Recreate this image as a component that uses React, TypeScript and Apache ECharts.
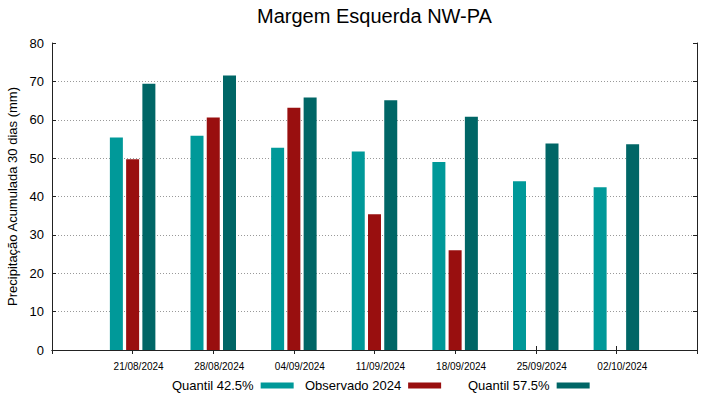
import React, { useEffect, useRef } from "react";
import * as echarts from "echarts";

const titleText = "Margem Esquerda NW-PA";
const yAxisName = "Precipitação Acumulada 30 dias (mm)";
const dates = ["21/08/2024", "28/08/2024", "04/09/2024", "11/09/2024", "18/09/2024", "25/09/2024", "02/10/2024"];
const seriesNames = ["Quantil 42.5%", "Observado 2024", "Quantil 57.5%"];
const q425 = [55.4, 55.8, 52.7, 51.7, 49.0, 44.0, 42.4];
const obs2024: (number | null)[] = [49.7, 60.6, 63.1, 35.4, 26.0, null, null];
const q575 = [69.4, 71.5, 65.8, 65.1, 60.8, 53.8, 53.6];
const colors = ["#009999", "#990f0f", "#006666"];

const FONT = "Liberation Sans, Arial, sans-serif";

export default function App() {
  const ref = useRef<HTMLDivElement>(null);
  useEffect(() => {
    if (!ref.current) return;
    const chart = echarts.init(ref.current, undefined, { renderer: "svg" });
    const cats = ["", ...dates, ""];
    const pad = (arr: (number | null)[]) => [null, ...arr, null];
    const allData = [q425, obs2024, q575];
    const axisLineStyle = { color: "#222", width: 1 };
    chart.setOption({
      animation: false,
      textStyle: { fontFamily: FONT },
      grid: { left: 52, right: 22, top: 43, bottom: 49, show: false, containLabel: false, outerBoundsMode: "none" },
      graphic: [
        {
          type: "text",
          x: 374.5,
          y: 16,
          style: {
            text: titleText,
            fontSize: 20,
            fontFamily: FONT,
            fill: "#000",
            textAlign: "center",
            textVerticalAlign: "middle",
          },
        },
      ],
      legend: seriesNames.map((n, i) => ({
        data: [n],
        left: [172, 305, 468][i],
        top: 379,
        align: "right",
        icon: "rect",
        itemWidth: 33,
        itemHeight: 6,
        padding: 0,
        selectedMode: false,
        textStyle: { fontSize: 13, color: "#000", fontFamily: FONT, padding: [0, 2, 0, 0] },
      })),
      xAxis: [
        {
          type: "category",
          data: cats,
          boundaryGap: false,
          position: "bottom",
          axisLine: { show: true, lineStyle: axisLineStyle },
          axisTick: { show: true, inside: true, length: 4, lineStyle: axisLineStyle, interval: 0 },
          axisLabel: {
            interval: 0,
            fontSize: 10,
            color: "#000",
            margin: 11,
            padding: [0, 0, 0, 12],
            fontFamily: FONT,
          },
          splitLine: { show: false },
        },
        {
          type: "category",
          data: cats,
          boundaryGap: false,
          position: "top",
          axisLine: { show: true, lineStyle: axisLineStyle },
          axisTick: { show: true, inside: true, length: 4, lineStyle: axisLineStyle, interval: 0 },
          axisLabel: { show: false },
          splitLine: { show: false },
        },
      ],
      yAxis: [
        {
          type: "value",
          min: 0,
          max: 80,
          interval: 10,
          position: "left",
          name: yAxisName,
          nameLocation: "middle",
          nameGap: 28,
          nameRotate: 90,
          nameTextStyle: { fontSize: 13, color: "#000", fontFamily: FONT },
          axisLine: { show: true, lineStyle: axisLineStyle },
          axisTick: { show: true, inside: true, length: 4, lineStyle: axisLineStyle },
          axisLabel: { fontSize: 13, color: "#000", margin: 8, fontFamily: FONT },
          splitLine: {
            show: true,
            showMinLine: false,
            showMaxLine: false,
            lineStyle: { color: "#999", type: [1, 2], width: 1 },
          },
        },
        {
          type: "value",
          min: 0,
          max: 80,
          interval: 10,
          position: "right",
          axisLine: { show: true, lineStyle: axisLineStyle },
          axisTick: { show: true, inside: true, length: 4, lineStyle: axisLineStyle },
          axisLabel: { show: false },
          splitLine: { show: false },
        },
      ],
      series: seriesNames.map((n, i) => ({
        name: n,
        type: "bar",
        xAxisIndex: 0,
        yAxisIndex: 0,
        data: pad(allData[i]),
        barWidth: 13,
        barGap: "25%",
        itemStyle: { color: colors[i] },
      })),
    });
    return () => chart.dispose();
  }, []);
  return <div ref={ref} style={{ width: 719, height: 399, position: "absolute", left: 0, top: 0 }} />;
}
